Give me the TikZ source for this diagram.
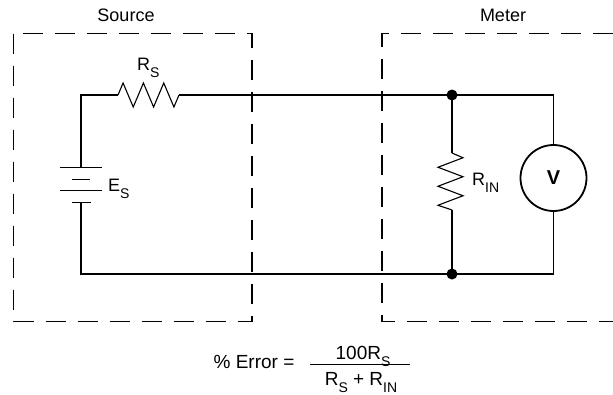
\documentclass[tikz,border=0pt]{standalone}
\usepackage{fontspec}
\setmainfont{Liberation Sans}
\usetikzlibrary{calc,positioning}
\newcommand{\subs}[1]{\raisebox{-7pt}{\fontsize{14}{14}\selectfont #1}}

\begin{document}
\begin{tikzpicture}[x=1pt, y=-1pt,
    wire/.style={line width=1.1pt},
    box/.style={line width=1.1pt, dash pattern=on 20pt off 12pt},
    junction/.style={circle, fill=black, inner sep=0pt, minimum size=11pt},
    meter/.style={circle, draw=black, line width=1.8pt, minimum size=66pt, inner sep=0pt,
    font=\fontsize{20}{20}\selectfont\bfseries},
    lbl/.style={font=\fontsize{18}{18}\selectfont, inner sep=0pt},
    frm/.style={font=\fontsize{19}{19}\selectfont, inner sep=0pt}]
    \useasboundingbox (0,0) rectangle (613,394);

    % the two boxes
    \node (source) [lbl] at (126,15.5) {Source};
    \node (meterbox) [lbl] at (503,15.5) {Meter};
    \draw[box] (13.5,33.5) rectangle (252,321.5);
    \draw[box] (613,33.5) -- (382,33.5) -- (382,321.5) -- (613,321.5);

    % circuit points
    \node (top) [junction] at (452,95) {};
    \node (bot) [junction] at (452,274) {};
    \node (volt) [meter] at (553.5,178) {V};
    \coordinate (esp) at (81,167.3);
    \coordinate (esn) at (81,202.3);
    \coordinate (rs1) at (118,95);
    \coordinate (rs2) at (179,95);
    \coordinate (rin1) at (452,153);
    \coordinate (rin2) at (452,210);

    % wires
    \draw[wire] (esp) |- (rs1);
    \draw[line width=2pt] (94,95) -- (99,95);
    \draw[wire] (rs1) -- ++(5.083,-12)
        \foreach \s in {1,-1,1,-1,1} { -- ++(10.167,24*\s) } -- (rs2);
    \draw[wire] (rs2) -- (top.center) -| (volt.north);
    \draw[wire] (top.center) -- (rin1);
    \draw[wire] (rin1) -- ++(11,4.75)
        \foreach \s in {1,-1,1,-1,1} { -- ++(-25*\s,9.5) } -- (rin2);
    \draw[wire] (rin2) -- (bot.center);
    \draw[wire] (volt.south) |- (bot.center) -| (esn);

    % battery
    \draw[wire] ([xshift=-21pt]esp) -- ([xshift=21pt]esp);
    \draw[wire] (71.7,179.3) -- (90,179.3);
    \draw[wire] (60,190.7) -- (101.7,190.7);
    \draw[wire] ([xshift=-9.5pt]esn) -- ([xshift=9.5pt]esn);

    % labels
    \node (rslbl) [lbl, anchor=base west] at (137,70) {R\subs{S}};
    \node (eslbl) [lbl, anchor=base west] at (108,191) {E\subs{S}};
    \node (rinlbl) [lbl, anchor=base west] at (472,185) {R\subs{IN}};

    % formula
    \node (err) [frm] at (254,362) {\% Error =};
    \node (num) [frm, anchor=base] at (363,359.5) {100R\subs{S}};
    \node (den) [frm, anchor=base] at (361,385) {R\subs{S} + R\subs{IN}};
    \coordinate (barl) at (310,364.5);
    \coordinate (barr) at (410,364.5);
    \draw[wire] (barl) -- (barr);
\end{tikzpicture}
\end{document}
